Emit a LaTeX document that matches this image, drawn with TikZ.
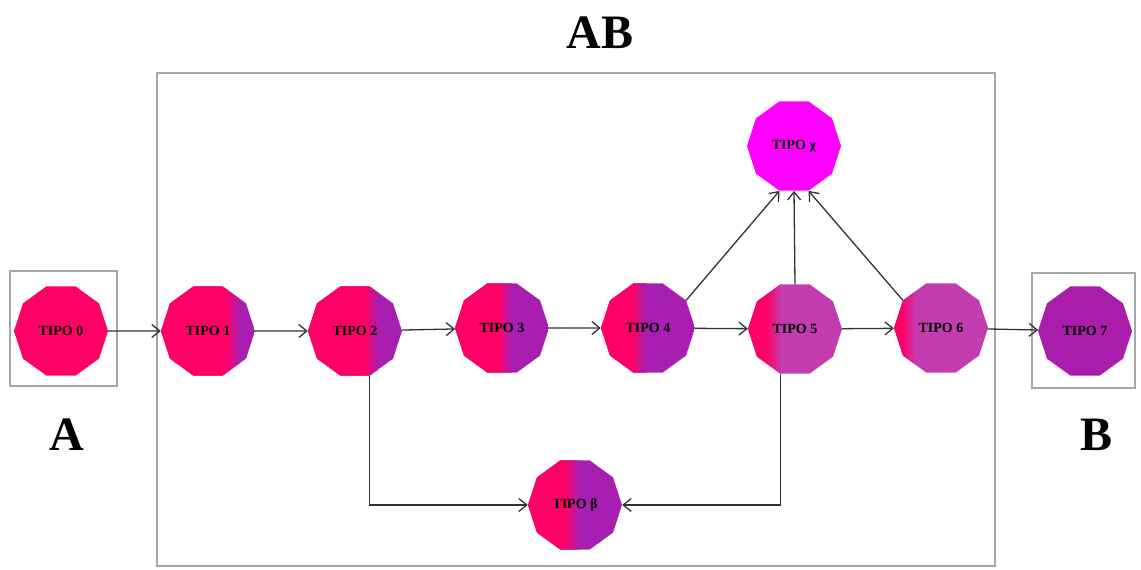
\documentclass[tikz,border=0pt]{standalone}
\usepackage{fontspec}
\setmainfont{Liberation Serif}
\usetikzlibrary{shapes.geometric,arrows.meta}
\definecolor{pinkc}{HTML}{FF0066}
\definecolor{purpc}{HTML}{A81EB0}
\definecolor{lilac}{HTML}{C23CB0}
\definecolor{purp7}{HTML}{AA1CAA}
\definecolor{magc}{HTML}{FF00FF}
\definecolor{boxgray}{HTML}{A6A6A6}
\begin{document}
\begin{tikzpicture}[x=1pt,y=-1pt,
 dec/.style={regular polygon, regular polygon sides=10, minimum size=94pt, inner sep=0pt, font=\bfseries\fontsize{14}{16}\selectfont},
 grad/.style 2 args={dec, path picture={
   \fill[#2] (path picture bounding box.south west) rectangle (path picture bounding box.north east);
   \fill[pinkc] ([xshift=-50pt,yshift=-50pt]path picture bounding box.center) rectangle ([xshift={#1pt-7pt},yshift=50pt]path picture bounding box.center);
   \shade[left color=pinkc,right color=#2] ([xshift={#1pt-7.2pt},yshift=-50pt]path picture bounding box.center) rectangle ([xshift={#1pt+7pt},yshift=50pt]path picture bounding box.center);
 }},
 conn/.style={draw=black!80, line width=1.3pt, -{Straight Barb[length=8pt,width=13pt]}},
 frame/.style={draw=boxgray, line width=2.4pt},
 big/.style={font=\bfseries\fontsize{48}{52}\selectfont}]
\fill[white] (0,0) rectangle (1141,570);
\useasboundingbox (0,0) rectangle (1141,570);
% frames
\draw[frame] (157,73) rectangle (995,566);
\draw[frame] (10,271) rectangle (117,386);
\draw[frame] (1032,273) rectangle (1135,388);
% titles
\node[big] (tAB) at (600,33) {AB};
\node[big] (tA) at (67,435) {A};
\node[big] (tB) at (1096,435) {B};
% nodes
\node[dec, fill=pinkc] (n0) at (61,331) {TIPO 0};
\node[grad={25}{purpc}] (n1) at (208,331) {TIPO 1};
\node[grad={16.5}{purpc}] (n2) at (355,331) {TIPO 2};
\node[grad={3}{purpc}] (n3) at (502,328) {TIPO 3};
\node[grad={-9}{purpc}] (n4) at (648,328) {TIPO 4};
\node[grad={-21}{lilac}] (n5) at (795,329) {TIPO 5};
\node[grad={-32}{lilac}] (n6) at (941,328) {TIPO 6};
\node[dec, fill=purp7] (n7) at (1085,331) {TIPO 7};
\node[dec, fill=magc] (nx) at (794,146) {TIPO χ};
\node[grad={-3}{purpc}] (nb) at (575,505) {TIPO β};
% connectors
\draw[conn] (n0) -- (n1);
\draw[conn] (n1) -- (n2);
\draw[conn] (n2) -- (n3);
\draw[conn] (n3) -- (n4);
\draw[conn] (n4) -- (n5);
\draw[conn] (n5) -- (n6);
\draw[conn] (n6) -- (n7);
\draw[conn] (n4.36) -- (nx.252);
\draw[conn] (n5.north) -- (nx.south);
\draw[conn] (n6.144) -- (nx.288);
\draw[conn] (n2.288) |- (nb.west);
\draw[conn] (n5.252) |- (nb.east);
\end{tikzpicture}
\end{document}
